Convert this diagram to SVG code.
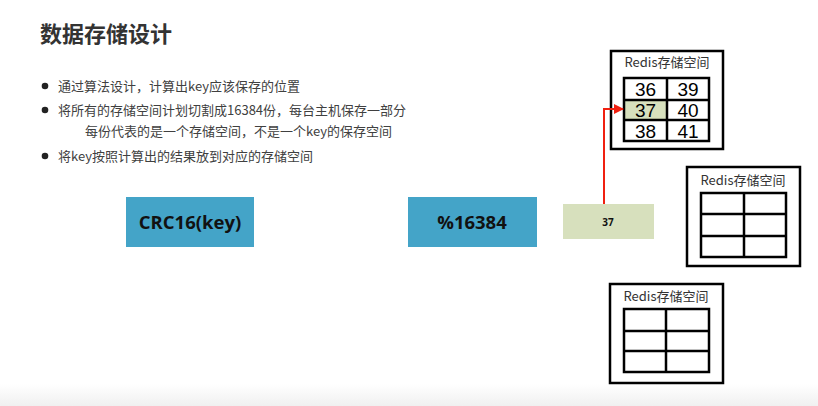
<svg xmlns="http://www.w3.org/2000/svg" width="818" height="406" viewBox="0 0 818 406">
<defs>
<style>
.cjk{font-family:"Microsoft YaHei","Noto Sans CJK SC","Liberation Sans",sans-serif}
.title{font-size:22px;font-weight:bold;fill:#333}
.bul{font-size:13px;fill:#404040}
.op{fill:#44a4c8}
.optxt{font-family:"Open Sans","Liberation Sans",sans-serif;font-weight:bold;font-size:18.500px;fill:#111;text-anchor:middle}
.outer{fill:#fff;stroke:#000;stroke-width:2.5}
.grid{fill:none;stroke:#000;stroke-width:2.5}
.rt{font-size:13px;fill:#333;text-anchor:middle}
.num{font-family:"Liberation Sans","Noto Sans",sans-serif;font-size:19px;fill:#000;text-anchor:middle}
.conn{fill:none;stroke:#f02010;stroke-width:2}
</style>
<marker id="ah" viewBox="0 0 10 10" refX="9" refY="5" markerWidth="5" markerHeight="5" orient="auto"><path d="M0,0 L10,5 L0,10 z" fill="#f02010"/></marker>
<linearGradient id="bg" x1="0" y1="0" x2="0" y2="1"><stop offset="0" stop-color="#ffffff"/><stop offset="1" stop-color="#f0f0f0"/></linearGradient>
</defs>
<rect width="818" height="406" fill="#fff"/>
<rect y="384" width="818" height="22" fill="url(#bg)"/>
<g id="title"><text class="cjk title" x="40" y="42">数据存储设计</text></g>
<g id="bullets" class="cjk bul">
<circle cx="45" cy="86" r="3.3" fill="#222"/>
<text x="58" y="91">通过算法设计，计算出key应该保存的位置</text>
<circle cx="45" cy="110" r="3.3" fill="#222"/>
<text x="58" y="115">将所有的存储空间计划切割成16384份，每台主机保存一部分</text>
<text x="85" y="136">每份代表的是一个存储空间，不是一个key的保存空间</text>
<circle cx="45" cy="156" r="3.3" fill="#222"/>
<text x="58" y="161">将key按照计算出的结果放到对应的存储空间</text>
</g>
<g id="crc16">
<rect class="op" x="126" y="197" width="128" height="50"/>
<text class="optxt" x="190" y="229">CRC16(key)</text>
</g>
<g id="mod">
<rect class="op" x="408" y="197" width="129" height="50"/>
<text class="optxt" x="472" y="229">%16384</text>
</g>
<g id="result">
<rect x="563" y="204" width="91" height="35" fill="#d7e0bd"/>
<text x="608" y="226" font-family="'Open Sans','Liberation Sans',sans-serif" font-weight="bold" font-size="10" text-anchor="middle" fill="#111">37</text>
</g>
<g id="redis1">
<rect class="outer" x="611" y="51" width="112" height="98"/>
<text class="cjk rt" x="667" y="67">Redis存储空间</text>
<rect x="624" y="100" width="43" height="20" fill="#d7e0bd"/>
<rect class="grid" x="624" y="78" width="85" height="63"/>
<path class="grid" d="M667,78V141M624,100H709M624,120H709"/>
<text class="num" x="645.500" y="96">36</text>
<text class="num" x="688" y="96">39</text>
<text class="num" x="645.500" y="117">37</text>
<text class="num" x="688" y="117">40</text>
<text class="num" x="645.500" y="138">38</text>
<text class="num" x="688" y="138">41</text>
</g>
<g id="redis2">
<rect class="outer" x="687" y="167" width="113" height="99"/>
<text class="cjk rt" x="743" y="185">Redis存储空间</text>
<rect class="grid" x="701" y="193" width="85" height="64"/>
<path class="grid" d="M744,193V257M701,214H786M701,236H786"/>
</g>
<g id="redis3">
<rect class="outer" x="610" y="284" width="113" height="99"/>
<text class="cjk rt" x="666" y="301">Redis存储空间</text>
<rect class="grid" x="624" y="309" width="85" height="63"/>
<path class="grid" d="M666,309V372M624,331H709M624,351H709"/>
</g>
<g id="connectors">
<path class="conn" d="M604,204V109H623" marker-end="url(#ah)"/>
</g>
</svg>
